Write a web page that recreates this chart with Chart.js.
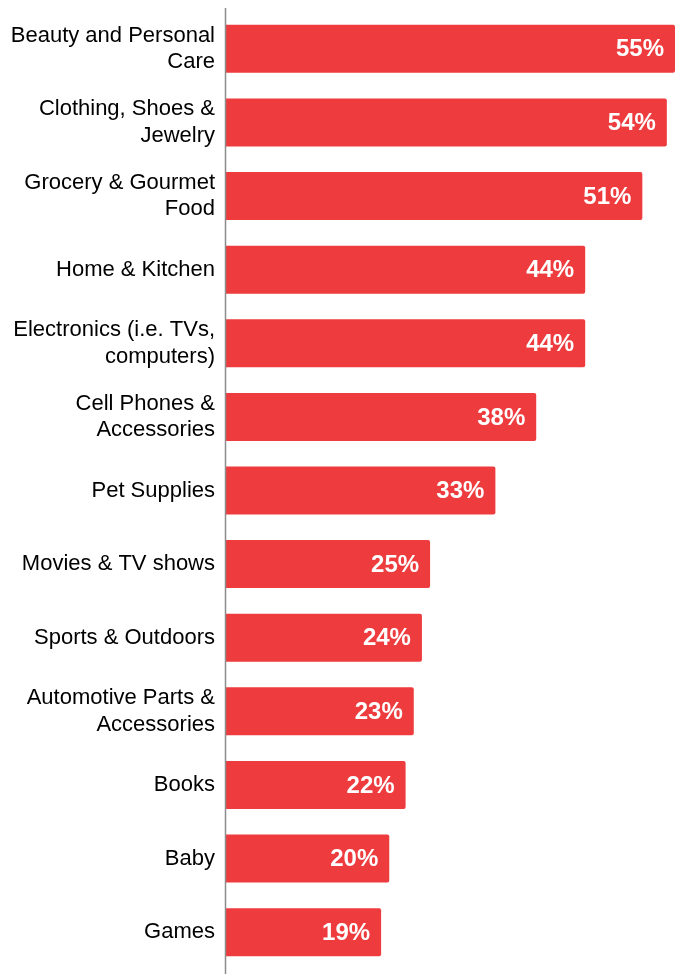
<!DOCTYPE html>
<html>
<head>
<meta charset="utf-8">
<script src="https://cdn.jsdelivr.net/npm/chart.js@4/dist/chart.umd.min.js"></script>
<style>
  html, body { margin: 0; padding: 0; background: #fff; }
  #chart { display: block; }
</style>
</head>
<body>
<canvas id="chart" width="675" height="974"></canvas>
<script>
// categories (multi-line labels are split into arrays)
var categories = [
  ["Beauty and Personal", "Care"],
  ["Clothing, Shoes &", "Jewelry"],
  ["Grocery & Gourmet", "Food"],
  "Home & Kitchen",
  ["Electronics (i.e. TVs,", "computers)"],
  ["Cell Phones &", "Accessories"],
  "Pet Supplies",
  "Movies & TV shows",
  "Sports & Outdoors",
  ["Automotive Parts &", "Accessories"],
  "Books",
  "Baby",
  "Games"
];

// share of respondents, percent
var shares = [55, 54, 51, 44, 44, 38, 33, 25, 24, 23, 22, 20, 19];

var xMin = 0;
var xMax = 55;

var barColor = "#EE3B3E";
var fontFamily = "'Liberation Sans', Arial, Helvetica, sans-serif";

// white value labels inside the end of each bar
var valueLabels = {
  id: "valueLabels",
  afterDatasetsDraw: function(chart) {
    var ctx = chart.ctx;
    var meta = chart.getDatasetMeta(0);
    ctx.save();
    ctx.fillStyle = "#fff";
    ctx.font = "bold 24px " + fontFamily;
    ctx.textAlign = "right";
    ctx.textBaseline = "middle";
    meta.data.forEach(function(bar, i) {
      ctx.fillText(shares[i] + "%", bar.x - 11, bar.y + 1);
    });
    ctx.restore();
  }
};

// grey vertical axis line, runs a little past the bars
var axisLine = {
  id: "axisLine",
  afterDraw: function(chart) {
    var ctx = chart.ctx;
    var x = chart.chartArea.left - 0.5;
    ctx.save();
    ctx.strokeStyle = "#8c8c8c";
    ctx.lineWidth = 1.5;
    ctx.beginPath();
    ctx.moveTo(x, 8);
    ctx.lineTo(x, chart.height);
    ctx.stroke();
    ctx.restore();
  }
};

new Chart(document.getElementById("chart"), {
  type: "bar",
  data: {
    labels: categories,
    datasets: [{
      data: shares,
      backgroundColor: barColor,
      borderRadius: 2,
      borderSkipped: "start",
      categoryPercentage: 1,
      barPercentage: 0.652
    }]
  },
  options: {
    indexAxis: "y",
    responsive: false,
    animation: false,
    layout: { padding: { top: 12, bottom: 5, left: 0, right: 0 } },
    plugins: {
      legend: { display: false },
      tooltip: { enabled: false }
    },
    scales: {
      x: {
        display: false,
        min: xMin,
        max: xMax
      },
      y: {
        grid: { display: false, drawTicks: false },
        border: { display: false },
        afterFit: function(scale) {
          scale.width = 226;
          // labels sit inside the plot height, no extra room needed
          scale.paddingTop = 0;
          scale.paddingBottom = 0;
        },
        ticks: {
          color: "#000",
          padding: 11,
          font: { family: fontFamily, size: 22, lineHeight: 1.2 }
        }
      }
    }
  },
  plugins: [valueLabels, axisLine]
});
</script>
</body>
</html>
